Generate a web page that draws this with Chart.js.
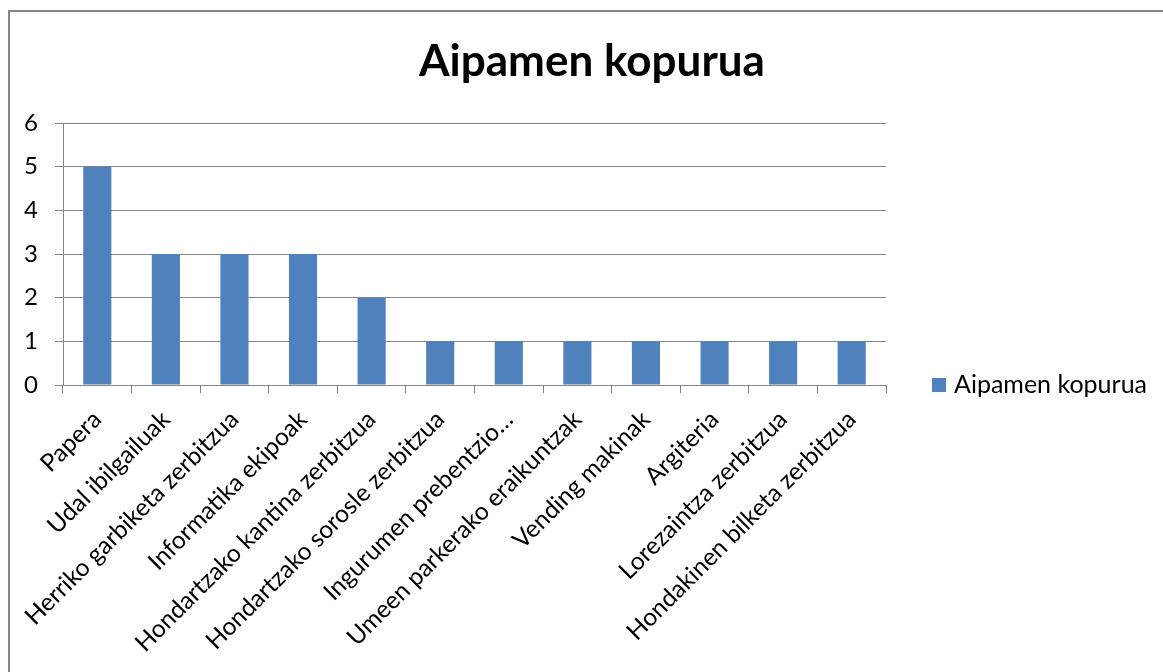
<!DOCTYPE html>
<html>
<head>
<meta charset="utf-8">
<script src="https://cdn.jsdelivr.net/npm/chart.js@4.4.1/dist/chart.umd.min.js"></script>
<style>
  html, body { margin: 0; padding: 0; background: #ffffff; }
  #wrap { position: relative; width: 1163px; height: 672px; }
</style>
</head>
<body>
<div id="wrap"><canvas id="chart" width="1163" height="672"></canvas></div>
<script>
// chart data
const categories = [
    'Papera',
    'Udal ibilgailuak',
    'Herriko garbiketa zerbitzua',
    'Informatika ekipoak',
    'Hondartzako kantina zerbitzua',
    'Hondartzako sorosle zerbitzua',
    'Ingurumen prebentzio…',
    'Umeen parkerako eraikuntzak',
    'Vending makinak',
    'Argiteria',
    'Lorezaintza zerbitzua',
    'Hondakinen bilketa zerbitzua'
];
const seriesName = 'Aipamen kopurua';
const chartTitle = 'Aipamen kopurua';
const mentions = [5, 3, 3, 3, 2, 1, 1, 1, 1, 1, 1, 1];
const yTicks = [0, 1, 2, 3, 4, 5, 6];

const barColor = '#4F81BD';
const lineColor = '#868686';
const fontFamily = 'Lato, "Open Sans", sans-serif';

// outer frame, title and legend drawn by hand, like the office export
const framePlugin = {
    id: 'frame',
    beforeDraw(chart) {
        const ctx = chart.ctx;
        ctx.save();
        ctx.strokeStyle = lineColor;
        ctx.lineWidth = 2;
        ctx.strokeRect(9, 11, 1170, 680);
        ctx.restore();
    },
    afterDraw(chart) {
        const ctx = chart.ctx;
        const ds = chart.data.datasets[0];
        ctx.save();
        // title
        ctx.fillStyle = '#000000';
        ctx.font = 'bold 44px ' + fontFamily;
        ctx.textAlign = 'center';
        ctx.textBaseline = 'middle';
        ctx.fillText(chartTitle, 592, 62);
        // legend
        ctx.fillStyle = ds.backgroundColor;
        ctx.fillRect(932, 378, 14, 14);
        ctx.fillStyle = '#000000';
        ctx.font = '25px ' + fontFamily;
        ctx.textAlign = 'left';
        ctx.fillText(ds.label, 954, 385);
        ctx.restore();
    }
};

const ctx = document.getElementById('chart').getContext('2d');

new Chart(ctx, {
    type: 'bar',
    data: {
        labels: categories,
        datasets: [{
            label: seriesName,
            data: mentions,
            backgroundColor: barColor,
            borderWidth: 0,
            categoryPercentage: 1,
            barPercentage: 0.41
        }]
    },
    options: {
        responsive: false,
        animation: false,
        layout: {
            padding: { left: 0, right: 277, top: 123, bottom: 0 }
        },
        scales: {
            x: {
                grid: {
                    display: true,
                    offset: true,
                    drawOnChartArea: false,
                    drawTicks: true,
                    tickLength: 8,
                    color: lineColor
                },
                border: { display: true, color: lineColor, width: 1 },
                ticks: {
                    autoSkip: false,
                    maxRotation: 45,
                    minRotation: 45,
                    padding: 12,
                    color: '#000000',
                    font: { family: fontFamily, size: 24.5 }
                },
                afterFit(scale) {
                    scale.height = 287;
                }
            },
            y: {
                min: 0,
                max: 6,
                afterBuildTicks(scale) {
                    scale.ticks = yTicks.map(v => ({ value: v }));
                },
                grid: {
                    color: lineColor,
                    lineWidth: 1,
                    drawTicks: true,
                    tickLength: 8
                },
                border: { display: true, color: lineColor, width: 1 },
                ticks: {
                    padding: 17,
                    color: '#000000',
                    font: { family: fontFamily, size: 24 }
                },
                afterFit(scale) {
                    scale.width = 63;
                }
            }
        },
        plugins: {
            legend: { display: false },
            tooltip: { enabled: false },
            title: { display: false }
        }
    },
    plugins: [framePlugin]
});
</script>
</body>
</html>
